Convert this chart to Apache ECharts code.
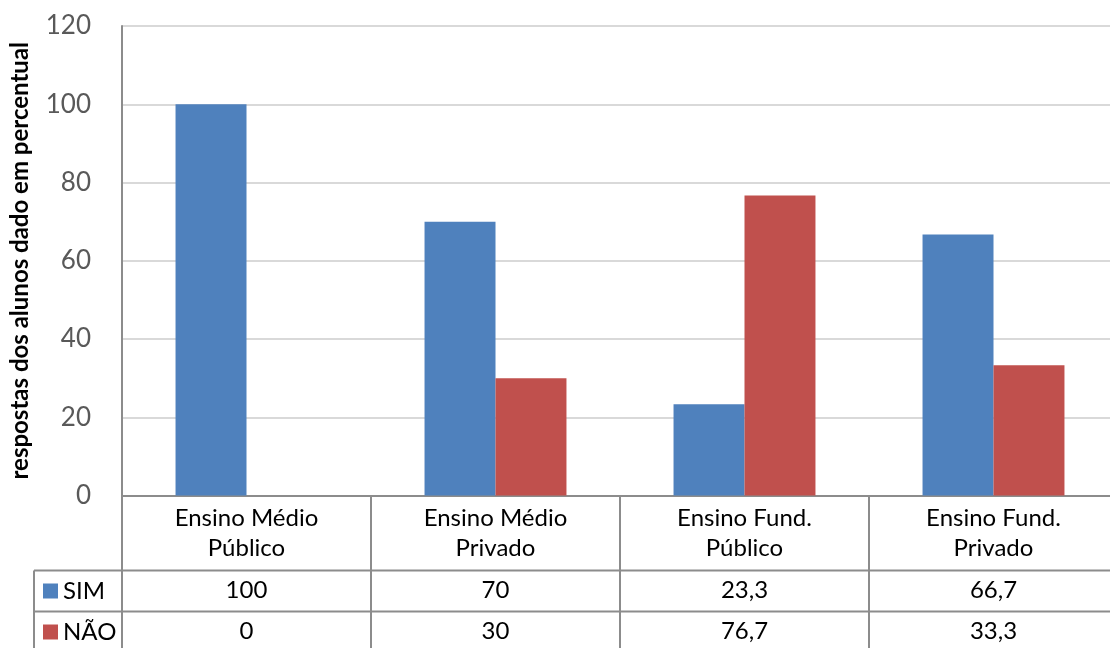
<!DOCTYPE html>
<html>
<head>
<meta charset="utf-8">
<style>
  html, body { margin: 0; padding: 0; background: #ffffff; }
  #chart { width: 1110px; height: 648px; }
</style>
<script src="https://cdn.jsdelivr.net/npm/echarts@6/dist/echarts.min.js"></script>
</head>
<body>
<div id="chart"></div>
<script>
// Categories and responses (percent)
const categories = ['Ensino Médio\nPúblico', 'Ensino Médio\nPrivado', 'Ensino Fund.\nPúblico', 'Ensino Fund.\nPrivado'];
const seriesNames = ['SIM', 'NÃO'];
const simValues = [100, 70, 23.3, 66.7];
const naoValues = [0, 30, 76.7, 33.3];
const yTicks = { min: 0, max: 120, interval: 20 };

const FONT = 'Lato, "Open Sans", sans-serif';
const TABLE_LINE = '#8c8c8c';
const fmt = v => String(v).replace('.', ',');

// plot rectangle
const G = { left: 122, top: 26, width: 996, height: 469.5 };
const tableLeft = 34;
const rowSim = 75;     // offset of the SIM row's top rule below the x axis
const rowNao = 116;    // offset of the NÃO row's top rule
const tableBottom = 153;

const chart = echarts.init(document.getElementById('chart'), null, { renderer: 'canvas' });

const rowAxis = (values, offset) => ({
  type: 'category',
  data: categories,
  gridIndex: 0,
  position: 'bottom',
  offset: offset,
  axisLine: { show: false },
  axisTick: { show: false },
  axisLabel: {
    interval: 0,
    margin: 0,
    verticalAlign: 'middle',
    fontFamily: FONT,
    fontSize: 24,
    color: '#000',
    formatter: (v, i) => fmt(values[i])
  }
});

const y0 = G.top + G.height;
const right = G.left + G.width;

chart.setOption({
  animation: false,
  color: ['#4F81BD', '#C0504D'],
  grid: {
    left: G.left, top: G.top, width: G.width, height: G.height,
    containLabel: false, outerBoundsMode: 'none'
  },
  legend: {
    data: seriesNames,
    orient: 'vertical',
    left: 43,
    top: 579,
    height: 200,
    padding: 0,
    itemWidth: 15,
    itemHeight: 15,
    itemGap: 17,
    icon: 'rect',
    textStyle: { fontFamily: FONT, fontSize: 24, color: '#000', lineHeight: 20 },
    selectedMode: false
  },
  xAxis: [
    {
      type: 'category',
      data: categories,
      axisLine: { show: true, lineStyle: { color: TABLE_LINE, width: 2 } },
      axisTick: { show: true, interval: 0, length: tableBottom, lineStyle: { color: TABLE_LINE, width: 2 } },
      axisLabel: {
        interval: 0,
        margin: 8,
        lineHeight: 30,
        fontFamily: FONT,
        fontSize: 24,
        color: '#000'
      }
    },
    rowAxis(simValues, rowSim + 20),
    rowAxis(naoValues, rowNao + 20)
  ],
  yAxis: {
    type: 'value',
    min: yTicks.min,
    max: yTicks.max,
    interval: yTicks.interval,
    name: 'respostas dos alunos dado em percentual',
    nameLocation: 'middle',
    nameRotate: 90,
    nameGap: 90,
    nameTextStyle: { fontFamily: FONT, fontSize: 24, fontWeight: 'bold', color: '#000' },
    axisLine: { show: true, lineStyle: { color: TABLE_LINE, width: 2 } },
    axisTick: { show: false },
    splitLine: { show: true, lineStyle: { color: '#d9d9d9', width: 2 } },
    axisLabel: { margin: 31, fontFamily: FONT, fontSize: 26, color: '#595959' }
  },
  series: [
    { name: seriesNames[0], type: 'bar', data: simValues, barGap: '0%', barCategoryGap: '43%' },
    { name: seriesNames[1], type: 'bar', data: naoValues, barGap: '0%', barCategoryGap: '43%' }
  ],
  graphic: [
    { type: 'line', shape: { x1: tableLeft, y1: y0 + rowSim, x2: right, y2: y0 + rowSim }, style: { stroke: TABLE_LINE, lineWidth: 2 } },
    { type: 'line', shape: { x1: tableLeft, y1: y0 + rowNao, x2: right, y2: y0 + rowNao }, style: { stroke: TABLE_LINE, lineWidth: 2 } },
    { type: 'line', shape: { x1: tableLeft, y1: y0 + rowSim, x2: tableLeft, y2: y0 + tableBottom }, style: { stroke: TABLE_LINE, lineWidth: 2 } }
  ]
});
</script>
</body>
</html>
